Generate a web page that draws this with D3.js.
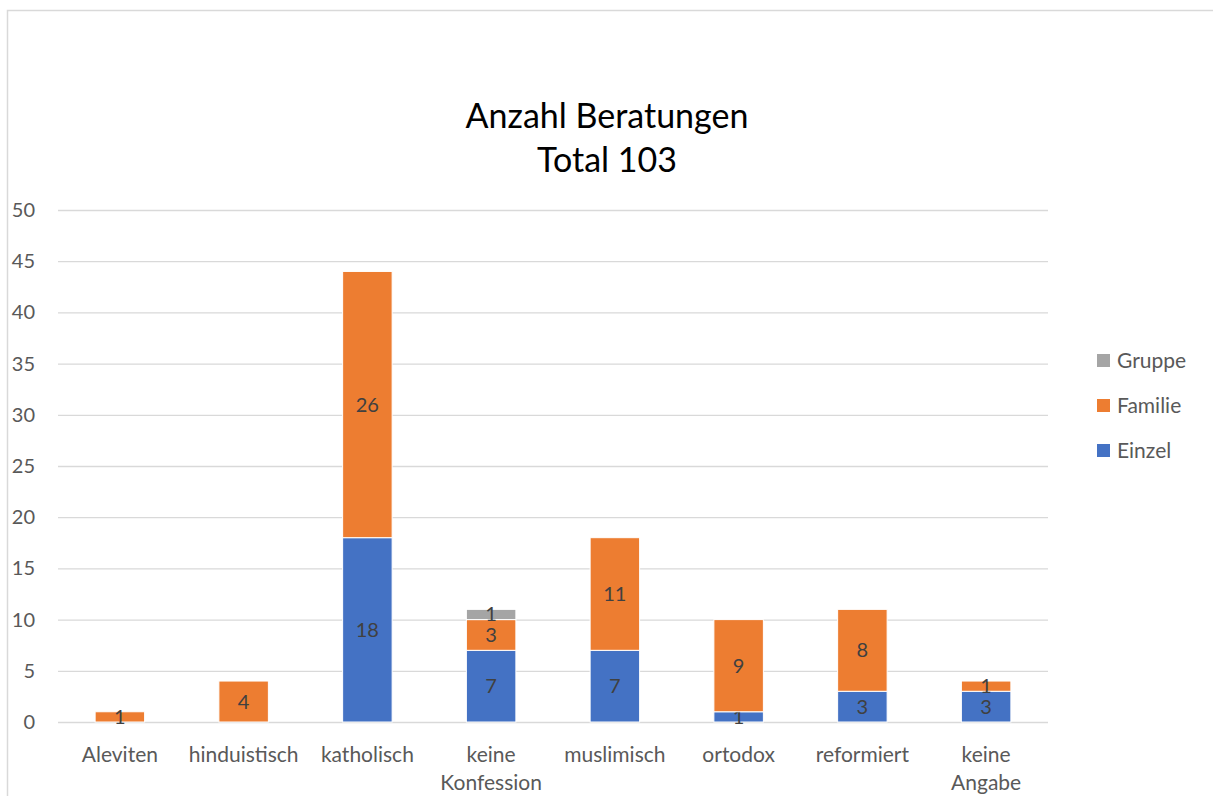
<!DOCTYPE html>
<html>
<head>
<meta charset="utf-8">
<script src="https://cdn.jsdelivr.net/npm/d3@7"></script>
<style>
  body { margin: 0; background: #fff; }
  svg { font-family: Lato, "Open Sans", sans-serif; }
</style>
</head>
<body>
<svg></svg>
<script>
const categories = ["Aleviten", "hinduistisch", "katholisch", "keine Konfession", "muslimisch", "ortodox", "reformiert", "keine Angabe"];
const einzel = [0, 0, 18, 7, 7, 1, 3, 3];
const familie = [1, 4, 26, 3, 11, 9, 8, 1];
const gruppe = [0, 0, 0, 1, 0, 0, 0, 0];
const seriesNames = ["Einzel", "Familie", "Gruppe"];
const colors = ["#4472C4", "#ED7D31", "#A5A5A5"];
const yTicks = [0, 5, 10, 15, 20, 25, 30, 35, 40, 45, 50];

const width = 1213, height = 796;
const svg = d3.select("svg").attr("width", width).attr("height", height);

// chart border
svg.append("rect")
    .attr("x", 7.5).attr("y", 10.5)
    .attr("width", 1300).attr("height", 900)
    .attr("fill", "none").attr("stroke", "#d9d9d9").attr("stroke-width", 1.5);

const table = categories.map((c, i) => ({ cat: c, Einzel: einzel[i], Familie: familie[i], Gruppe: gruppe[i] }));
const stacked = d3.stack().keys(seriesNames)(table);

const x = d3.scaleBand().domain(categories).range([58, 1048]).paddingInner(0.6).paddingOuter(0.3);
const y = d3.scaleLinear().domain([0, 50]).range([722, 210]);

// gridlines
svg.append("g").selectAll("line")
    .data(yTicks)
    .enter().append("line")
    .attr("x1", 58).attr("x2", 1048)
    .attr("y1", d => y(d) + 0.5).attr("y2", d => y(d) + 0.5)
    .attr("stroke", "#d9d9d9").attr("stroke-width", 1.3);

// y axis labels
svg.append("g").selectAll("text")
    .data(yTicks)
    .enter().append("text")
    .attr("x", 35).attr("y", d => y(d) + 7)
    .attr("text-anchor", "end")
    .attr("fill", "#595959").style("font-size", "20px")
    .text(d => d);

// bars
const layers = svg.append("g").selectAll("g")
    .data(stacked)
    .enter().append("g")
    .attr("fill", (d, i) => colors[i]);

layers.selectAll("rect")
    .data(d => d.map(v => ({ v, key: d.key })))
    .enter().append("rect")
    .attr("x", d => x(d.v.data.cat))
    .attr("width", x.bandwidth())
    .attr("y", d => y(d.v[1]))
    .attr("height", d => y(d.v[0]) - y(d.v[1]))
    .attr("stroke", "#fff").attr("stroke-width", 1)
    .style("display", d => d.v[1] - d.v[0] > 0 ? null : "none");

// data labels
layers.selectAll("text")
    .data(d => d.filter(v => v[1] - v[0] > 0))
    .enter().append("text")
    .attr("x", d => x(d.data.cat) + x.bandwidth() / 2)
    .attr("y", d => (y(d[0]) + y(d[1])) / 2 + 7)
    .attr("text-anchor", "middle")
    .attr("fill", "#404040").style("font-size", "20px")
    .text(d => d[1] - d[0]);

// category labels
const catLabels = svg.append("g").selectAll("text")
    .data(categories)
    .enter().append("text")
    .attr("x", d => x(d) + x.bandwidth() / 2)
    .attr("y", 762)
    .attr("text-anchor", "middle")
    .attr("fill", "#595959").style("font-size", "21px");
catLabels.each(function(d) {
    const words = d.split(" ");
    const t = d3.select(this);
    words.forEach((w, i) => {
        t.append("tspan").attr("x", x(d) + x.bandwidth() / 2).attr("dy", i === 0 ? 0 : 28).text(w);
    });
});

// title
const title = svg.append("text")
    .attr("x", 607).attr("y", 128)
    .attr("text-anchor", "middle")
    .attr("fill", "#000").style("font-size", "34px");
title.append("tspan").attr("x", 607).text("Anzahl Beratungen");
title.append("tspan").attr("x", 607).attr("dy", 44).text("Total 103");

// legend
const legendOrder = [2, 1, 0];
const legend = svg.append("g").selectAll("g")
    .data(legendOrder)
    .enter().append("g")
    .attr("transform", (d, i) => `translate(1097, ${361 + i * 45})`);
legend.append("rect")
    .attr("x", 0).attr("y", -7)
    .attr("width", 13).attr("height", 13)
    .attr("fill", d => colors[d]);
legend.append("text")
    .attr("x", 20).attr("y", 7)
    .attr("fill", "#595959").style("font-size", "21px")
    .text(d => seriesNames[d]);
</script>
</body>
</html>
